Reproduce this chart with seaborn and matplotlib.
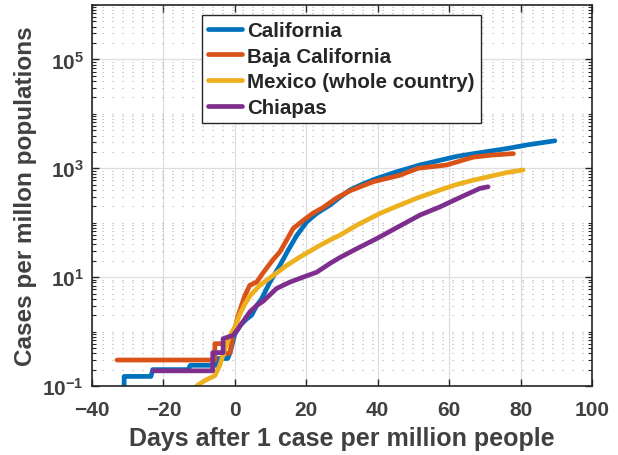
import numpy as np
import pandas as pd
import matplotlib
matplotlib.use("Agg")
import matplotlib.pyplot as plt
import matplotlib.ticker as mticker
import seaborn as sns

# days after 1 case per million, cases per million
ca_days = [-31, -31, -30.5, -23.5, -23, -13, -12.5, -5, -4.8, -2, -1.4, 0, 1.5, 3.3, 4.7, 6.1,
           7.5, 9.8, 12.6, 14.9, 17.3, 20.1, 22.9, 26.6, 29, 32.2, 36, 39.7, 45, 51.8, 57.4,
           62, 66.7, 70, 76.1, 82, 89.6]
ca_cases = [0.05, 0.15, 0.15, 0.15, 0.2, 0.2, 0.24, 0.24, 0.32, 0.32, 0.4, 0.9, 1.3, 1.7, 2.0, 3.0,
            4.0, 8.1, 16.4, 31, 58, 103, 148, 210, 280, 400, 520, 650, 850, 1150, 1400,
            1650, 1850, 2000, 2300, 2700, 3200]

bc_days = [-33, -5.6, -5.6, -3, -3, -1.4, -0.5, 0.9, 2.8, 4.2, 6.1, 7.9, 10.7, 12.6, 14.5,
           16.3, 19.1, 21.9, 24.7, 28.5, 32.2, 38.7, 46.2, 51.3, 59.3, 66.7, 72, 78]
bc_cases = [0.3, 0.3, 0.6, 0.6, 0.4, 0.4, 0.85, 1.95, 4.6, 7.1, 8.1, 12, 21, 29, 48,
            78, 110, 150, 190, 285, 385, 565, 745, 1000, 1150, 1600, 1750, 1860]

mx_days = [-10.7, -8.4, -5.6, -4.2, -2.8, -1.4, 0, 1.4, 2.8, 4.2, 7, 10.7, 14.5, 18.2, 22.9,
           26.6, 29.4, 34, 40.6, 46, 51.3, 57.4, 62, 66.7, 72, 76, 80.7]
mx_cases = [0.1, 0.126, 0.155, 0.24, 0.48, 0.84, 1.2, 2.1, 3.2, 4.5, 7.1, 10.7, 16.4, 23.4, 35.5,
            48, 59, 89, 148, 209, 288, 398, 501, 603, 724, 832, 933]

ch_days = [-22.9, -6.2, -6.2, -3.3, -3.3, -0.5, 0.9, 2.8, 4.2, 6.1, 7.9, 11.7, 15.4, 19.1,
           22.9, 26.6, 29.4, 34, 39.7, 45, 51.8, 57.4, 63.9, 68.6, 70.9]
ch_cases = [0.19, 0.19, 0.41, 0.41, 0.74, 0.85, 1.12, 1.7, 2.3, 3.0, 3.6, 6.2, 8.1, 10,
            12.3, 17.8, 22.9, 33, 51, 79, 138, 195, 309, 427, 457]

regions = ["California", "Baja California", "Mexico (whole country)", "Chiapas"]
colors = ["#0072BD", "#D95319", "#EDB120", "#7E2F8E"]
xticks = list(range(-40, 101, 20))

frames = []
for name, d, c in zip(regions, [ca_days, bc_days, mx_days, ch_days],
                      [ca_cases, bc_cases, mx_cases, ch_cases]):
    frames.append(pd.DataFrame({"day": d, "cases": c, "region": name}))
df = pd.concat(frames, ignore_index=True)

sns.set_style("ticks")
plt.rcParams["font.family"] = ["Liberation Sans", "DejaVu Sans"]
plt.rcParams["font.weight"] = "bold"
plt.rcParams["mathtext.fontset"] = "custom"
plt.rcParams["mathtext.bf"] = "Liberation Sans:bold"
plt.rcParams["mathtext.rm"] = "Liberation Sans:bold"

text_col = "#404040"
fig = plt.figure(figsize=(6.18, 4.56), dpi=100)
ax = fig.add_axes([92 / 618, 1 - 387 / 456, 500 / 618, 381 / 456])

sns.lineplot(data=df, x="day", y="cases", hue="region", palette=colors, hue_order=regions,
             estimator=None, sort=False, linewidth=3.4, ax=ax)

ax.set_yscale("log")
ax.set_xlim(-40, 100)
ax.set_ylim(0.1, 1e6)
ax.set_xticks(xticks)
ax.set_xticklabels([str(v).replace("-", "\u2212") for v in xticks])
ax.set_yticks([1e-1, 1e1, 1e3, 1e5])
ax.set_yticklabels([r"$\mathbf{10^{-1}}$", r"$\mathbf{10^{1}}$", r"$\mathbf{10^{3}}$", r"$\mathbf{10^{5}}$"])
ax.yaxis.set_minor_locator(mticker.LogLocator(base=10, subs=np.arange(1, 10), numticks=50))
ax.yaxis.set_minor_formatter(mticker.NullFormatter())

# grid: solid major, dotted minor
ax.grid(which="major", axis="both", color="#dedede", linewidth=0.9, linestyle="-")
ax.grid(which="minor", axis="y", color="#b0b0b0", linewidth=0.8, linestyle=(0, (1, 8)))
ax.set_axisbelow(True)

ax.tick_params(which="both", direction="in", top=True, right=True, colors="#262626",
               labelcolor=text_col, labelsize=15)
ax.tick_params(which="major", length=5, width=1)
ax.tick_params(which="minor", length=3, width=0.8)
ax.tick_params(axis="x", pad=10)
ax.tick_params(axis="y", pad=6)
for s in ax.spines.values():
    s.set_color("#262626")
    s.set_linewidth(1.2)

ax.set_xlabel("Days after 1 case per million people", fontsize=18, fontweight="bold",
              color=text_col, labelpad=5)
ax.set_ylabel("Cases per millon populations", fontsize=17.5, fontweight="bold",
              color=text_col, labelpad=4)

handles, labels = ax.get_legend_handles_labels()
leg = ax.legend(handles, labels, loc="upper left", bbox_to_anchor=(0.22, 0.974),
                borderaxespad=0, fancybox=False, framealpha=1, edgecolor="#262626",
                prop={"size": 14.8, "weight": "bold"}, handlelength=1.65, handletextpad=0.25,
                borderpad=0.3, labelspacing=0.32)
leg.get_frame().set_linewidth(1.0)
for h in leg.get_lines():
    h.set_linewidth(3.4)

fig.savefig("out.png", dpi=100, facecolor="white")
